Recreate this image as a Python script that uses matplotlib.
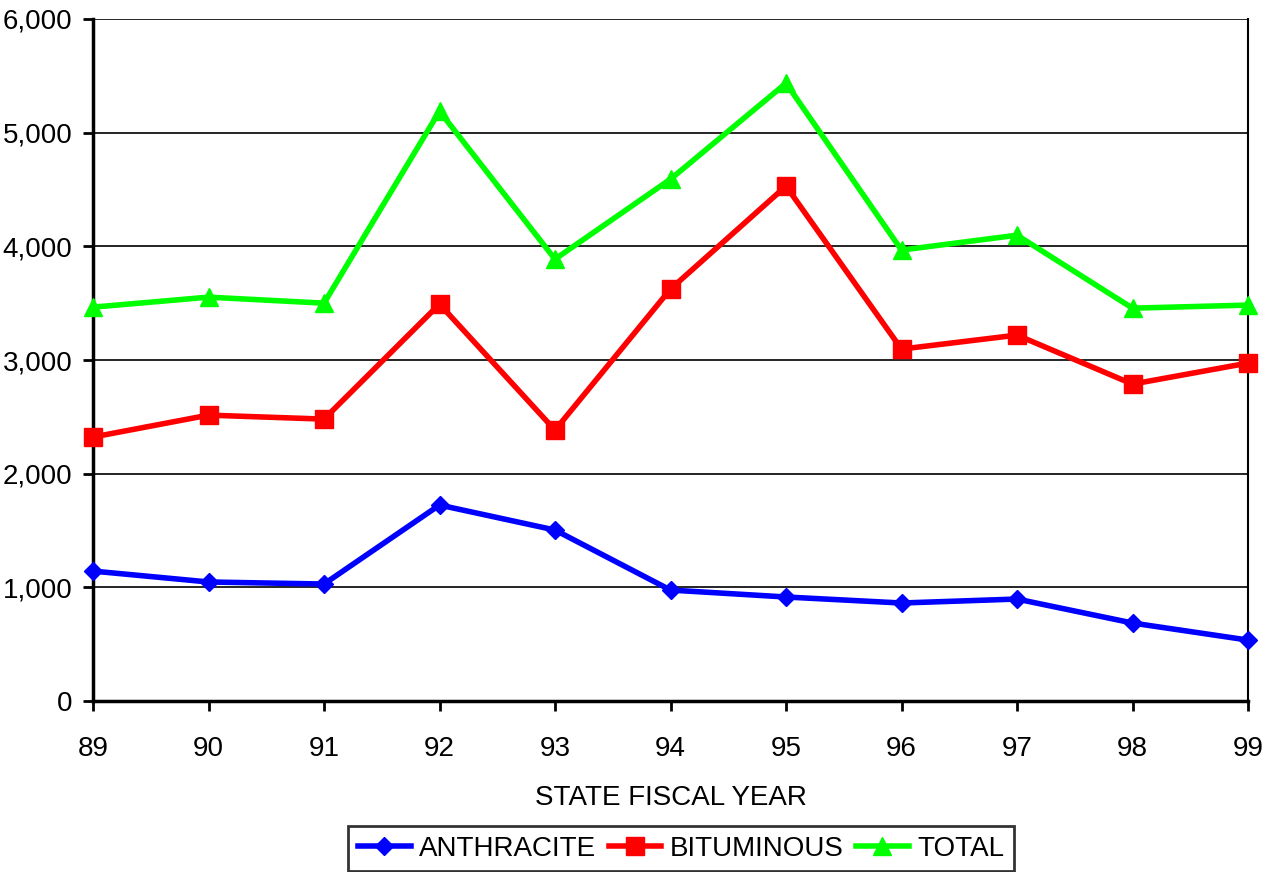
import matplotlib.pyplot as plt
from matplotlib.ticker import FuncFormatter

plt.rcParams['font.family'] = ['Liberation Sans', 'DejaVu Sans']

years = ['89', '90', '91', '92', '93', '94', '95', '96', '97', '98', '99']
anthracite = [1143, 1047, 1029, 1724, 1504, 976, 915, 862, 897, 686, 536]
bituminous = [2322, 2515, 2480, 3492, 2383, 3624, 4530, 3096, 3219, 2788, 2973]
total = [3465, 3553, 3500, 5189, 3887, 4591, 5435, 3967, 4098, 3456, 3483]

W, H = 1272, 872
fig = plt.figure(figsize=(W / 100, H / 100), dpi=100)
ax = fig.add_axes([93 / W, 1 - 701 / H, (1248 - 93) / W, (701 - 19) / H])

x = list(range(len(years)))
ax.plot(x, anthracite, color='#0000ff', lw=4, marker='D', ms=9, label='ANTHRACITE',
        clip_on=False, zorder=3)
ax.plot(x, bituminous, color='#ff0000', lw=4, marker='s', ms=13, label='BITUMINOUS',
        clip_on=False, zorder=3)
ax.plot(x, total, color='#00ff00', lw=4, marker='^', ms=13, label='TOTAL',
        clip_on=False, zorder=3)

ax.set_xlim(0, len(years) - 1)
ax.set_ylim(0, 6000)
ax.set_yticks(range(0, 6001, 1000))
ax.yaxis.set_major_formatter(FuncFormatter(lambda v, p: f'{int(v):,}'))
ax.set_xticks(x)
ax.set_xticklabels(years)
ax.tick_params(labelsize=20, width=2, length=7, direction='out')
ax.tick_params(axis='x', pad=18)
ax.tick_params(axis='y', pad=8)
ax.grid(axis='y', color='black', lw=1.2)
ax.set_axisbelow(True)
ax.spines['top'].set_visible(False)
ax.spines['right'].set_linewidth(1.5)
for s in ['left', 'bottom']:
    ax.spines[s].set_linewidth(2.5)
ax.set_xlabel('STATE FISCAL YEAR', fontsize=20, labelpad=17)

leg = fig.legend(loc='upper center', bbox_to_anchor=(681 / W, 1 - 826 / H), ncol=3,
                 fontsize=20, frameon=True, fancybox=False, edgecolor='black',
                 handlelength=1.9, columnspacing=0.45, handletextpad=0.3, borderpad=0.35,
                 borderaxespad=0)
leg.get_frame().set_linewidth(2)

fig.savefig('out.png', dpi=100)
